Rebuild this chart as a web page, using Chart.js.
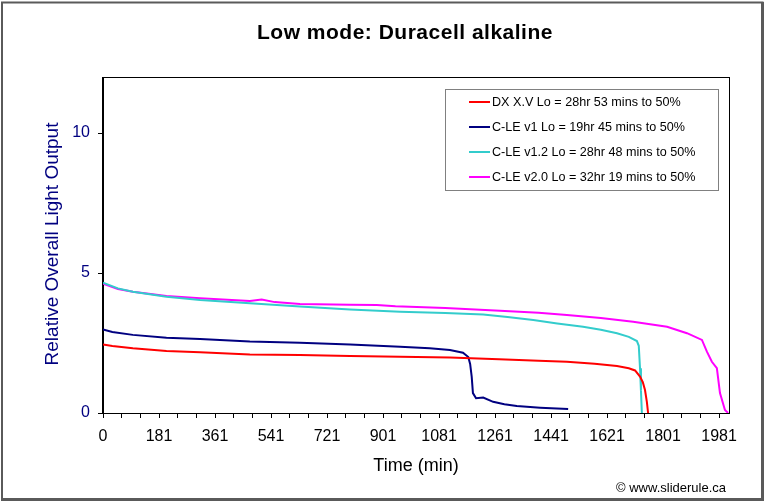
<!DOCTYPE html>
<html>
<head>
<meta charset="utf-8">
<script src="https://cdn.jsdelivr.net/npm/chart.js@4.4.1/dist/chart.umd.min.js"></script>
<style>
  html, body { margin: 0; padding: 0; background: #fff; }
  #wrap { position: relative; width: 766px; height: 502px; }
</style>
</head>
<body>
<div id="wrap"><canvas id="chart" width="766" height="502"></canvas></div>
<script>
// x axis tick labels (one every 180 min, minor ticks every 60)
const xTickLabels = ["0", "181", "361", "541", "721", "901", "1081", "1261", "1441", "1621", "1801", "1981"];

// DX X.V Lo
const dxTime = [0, 30, 96, 204, 312, 472, 633, 794, 955, 1115, 1273, 1400, 1491, 1580, 1652, 1690, 1710, 1726, 1735, 1742, 1748, 1752];
const dxOutput = [2.45, 2.39, 2.31, 2.21, 2.17, 2.09, 2.07, 2.04, 2.01, 1.98, 1.92, 1.87, 1.83, 1.76, 1.68, 1.60, 1.52, 1.30, 1.10, 0.82, 0.40, 0];

// C-LE v1 Lo
const v1Time = [0, 30, 96, 204, 312, 472, 633, 794, 955, 1050, 1115, 1157, 1174, 1180, 1185, 1189, 1199, 1222, 1254, 1290, 1330, 1405, 1495];
const v1Output = [2.98, 2.89, 2.79, 2.69, 2.64, 2.55, 2.51, 2.45, 2.37, 2.31, 2.25, 2.15, 2.0, 1.75, 1.30, 0.71, 0.53, 0.55, 0.40, 0.31, 0.25, 0.19, 0.14];

// C-LE v1.2 Lo
const v12Time = [0, 48, 96, 204, 312, 472, 633, 794, 955, 1100, 1222, 1300, 1383, 1460, 1543, 1600, 1652, 1690, 1716, 1722, 1726, 1729, 1732];
const v12Output = [4.65, 4.45, 4.33, 4.15, 4.04, 3.92, 3.80, 3.70, 3.62, 3.57, 3.52, 3.43, 3.32, 3.20, 3.08, 2.97, 2.85, 2.72, 2.57, 2.40, 1.60, 0.80, 0];

// C-LE v2.0 Lo
const v20Time = [0, 48, 96, 204, 312, 472, 510, 552, 633, 794, 880, 940, 1100, 1276, 1400, 1491, 1600, 1704, 1813, 1877, 1925, 1941, 1957, 1973, 1983, 1999, 2009];
const v20Output = [4.62, 4.43, 4.33, 4.18, 4.10, 4.00, 4.05, 3.96, 3.89, 3.87, 3.86, 3.81, 3.75, 3.65, 3.58, 3.50, 3.39, 3.26, 3.08, 2.85, 2.61, 2.19, 1.83, 1.60, 0.71, 0.11, 0];

const seriesLabels = [
    "DX X.V Lo = 28hr 53 mins to 50%",
    "C-LE v1 Lo = 19hr 45 mins to 50%",
    "C-LE v1.2 Lo = 28hr 48 mins to 50%",
    "C-LE v2.0 Lo = 32hr 19 mins to 50%"
];
const seriesColors = ["#FF0000", "#000080", "#33CCCC", "#FF00FF"];

const FONT = "'Liberation Sans', Arial, sans-serif";

function toPoints(times, values) {
    return times.map((t, i) => ({ x: t, y: values[i] }));
}

const allSeries = [
    toPoints(dxTime, dxOutput),
    toPoints(v1Time, v1Output),
    toPoints(v12Time, v12Output),
    toPoints(v20Time, v20Output)
];

const datasets = allSeries.map((pts, i) => ({
    label: seriesLabels[i],
    data: pts,
    borderColor: seriesColors[i],
    backgroundColor: seriesColors[i],
    borderWidth: 2,
    pointRadius: 0,
    tension: 0,
    fill: false
}));

// draws frame, plot box, titles, legend and credit
const decorations = {
    id: "decorations",
    beforeDraw(chart) {
        const c = chart.ctx;
        c.save();
        c.fillStyle = "#fff";
        c.fillRect(0, 0, chart.width, chart.height);
        c.restore();
    },
    afterDraw(chart) {
        const c = chart.ctx;
        const a = chart.chartArea;
        c.save();

        // plot area box
        c.strokeStyle = "#000";
        c.lineWidth = 1;
        c.strokeRect(a.left - 0.5, a.top + 0.5, a.right - a.left + 1, a.bottom - a.top);

        // outer frame
        c.strokeStyle = "#5a5a5a";
        c.lineWidth = 2;
        c.strokeRect(2, 2.5, 760.5, 496.5);
        c.lineWidth = 3;
        c.beginPath();
        c.moveTo(762.5, 2); c.lineTo(762.5, 501);
        c.moveTo(1, 499.5); c.lineTo(764, 499.5);
        c.stroke();

        // chart title
        c.fillStyle = "#000";
        c.textAlign = "center";
        c.textBaseline = "middle";
        c.font = "bold 21px " + FONT;
        c.letterSpacing = "0.5px";
        c.fillText("Low mode: Duracell alkaline", 405, 33);
        c.letterSpacing = "0px";

        // x axis title
        c.font = "18px " + FONT;
        c.fillText("Time (min)", 416, 466);

        // y axis title
        c.save();
        c.translate(53, 244);
        c.rotate(-Math.PI / 2);
        c.fillStyle = "#000080";
        c.font = "19px " + FONT;
        c.fillText("Relative Overall Light Output", 0, 0);
        c.restore();

        // credit
        c.textAlign = "left";
        c.font = "13px " + FONT;
        c.fillText("\u00A9 www.sliderule.ca", 616, 488);

        // legend
        const lx = 445, ly = 89, lw = 273, lh = 101;
        c.fillStyle = "#fff";
        c.fillRect(lx, ly, lw, lh);
        c.strokeStyle = "#808080";
        c.lineWidth = 1;
        c.strokeRect(lx + 0.5, ly + 0.5, lw, lh);
        c.font = "12.6px " + FONT;
        c.textBaseline = "middle";
        seriesLabels.forEach((lab, i) => {
            const y = 102 + i * 25;
            c.strokeStyle = seriesColors[i];
            c.lineWidth = 2;
            c.beginPath();
            c.moveTo(469, y);
            c.lineTo(490, y);
            c.stroke();
            c.fillStyle = "#000";
            c.fillText(lab, 492, y + 1);
        });

        c.restore();
    }
};

new Chart(document.getElementById("chart").getContext("2d"), {
    type: "line",
    data: { datasets: datasets },
    options: {
        responsive: false,
        animation: false,
        events: [],
        layout: { padding: { left: 0, top: 77, right: 37, bottom: 0 } },
        plugins: {
            legend: { display: false },
            title: { display: false },
            tooltip: { enabled: false }
        },
        scales: {
            x: {
                type: "linear",
                min: 0,
                max: 2012,
                afterBuildTicks: (scale) => {
                    const ticks = [];
                    for (let i = 0; i <= 33; i++) ticks.push({ value: i * 60 });
                    scale.ticks = ticks;
                },
                afterFit: (scale) => { scale.height = 89; },
                grid: { drawOnChartArea: false, drawTicks: true, tickLength: 5, color: "#000" },
                border: { display: true, color: "#000" },
                ticks: {
                    autoSkip: false,
                    maxRotation: 0,
                    padding: 9,
                    color: "#000",
                    font: { family: FONT, size: 16 },
                    callback: (v, i) => (i % 3 === 0 ? xTickLabels[i / 3] : "")
                }
            },
            y: {
                min: 0,
                max: 12,
                afterFit: (scale) => { scale.width = 103; },
                afterBuildTicks: (scale) => {
                    scale.ticks = [{ value: 0 }, { value: 5 }, { value: 10 }];
                },
                grid: { drawOnChartArea: false, drawTicks: true, tickLength: 5, color: "#000" },
                border: { display: true, color: "#000" },
                ticks: {
                    padding: 8,
                    color: "#000080",
                    font: { family: FONT, size: 16 }
                }
            }
        }
    },
    plugins: [decorations]
});
</script>
</body>
</html>
